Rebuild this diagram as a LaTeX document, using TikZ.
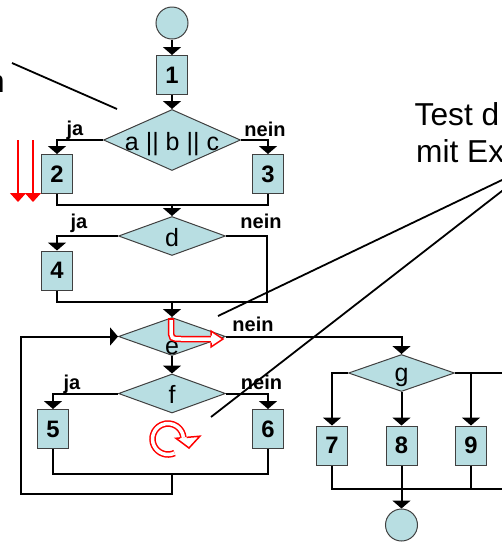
\documentclass[tikz,border=0pt]{standalone}
\usepackage{fontspec}
\setmainfont{Liberation Sans}
\usetikzlibrary{arrows.meta,shapes.geometric}
\definecolor{flowfill}{RGB}{184,222,226}
\newcommand{\dlabel}[2][10pt]{\smash{\makebox[0pt]{\raisebox{-#1}{#2}}}}

\begin{document}
\begin{tikzpicture}[x=1pt, y=-1pt,
  box/.style={draw=black!75, line width=1pt, fill=flowfill, minimum width=31pt,
    minimum height=39pt, inner sep=0pt, font=\fontsize{23.8}{24}\selectfont\bfseries},
  dia/.style={diamond, draw=black!75, line width=1pt, fill=flowfill, inner sep=0pt,
    minimum width=107pt, minimum height=39pt, font=\fontsize{25}{26}\selectfont},
  term/.style={circle, draw=black!75, line width=1pt, fill=flowfill, minimum size=32pt, inner sep=0pt},
  flow/.style={line width=2pt},
  arr/.style={flow, -{Triangle[width=18pt,length=8pt]}},
  lbl/.style={font=\fontsize{20}{22}\selectfont\bfseries, anchor=base, inner sep=0pt},
  note/.style={font=\fontsize{31.7}{34}\selectfont, anchor=base west, inner sep=0pt},
  callout/.style={line width=1.8pt},
  hint/.style={red, line width=1.5pt, double=white, double distance=3.5pt},
  redarr/.style={red, line width=1.5pt, -{Triangle[width=16pt,length=9pt]}},
]
  \useasboundingbox (0,0) rectangle (502,542);
  \clip (0,0) rectangle (502,542);

  % Blocks
  \node[term] (start) at (172,23) {};
  \node[box] (b1) at (172,75) {1};
  \node[dia, minimum width=137pt, minimum height=61pt] (abc) at (172,140) {\dlabel{a || b || c}};
  \node[box] (b2) at (57,174) {2};
  \node[box] (b3) at (268,174) {3};
  \node[dia] (d) at (172,236) {\dlabel{d}};
  \node[box] (b4) at (57,270.5) {4};
  \node[dia, minimum height=38pt] (e) at (172,336.5) {\dlabel[18pt]{e}};
  \node[dia] (f) at (172,393.5) {\dlabel{f}};
  \node[box] (b5) at (53,429) {5};
  \node[box] (b6) at (268,429) {6};
  \node[dia, minimum width=106pt, minimum height=37pt] (g) at (401.5,373) {\dlabel[8pt]{g}};
  \node[box] (b7) at (332,445.5) {7};
  \node[box] (b8) at (401.5,445.5) {8};
  \node[box] (b9) at (471,445.5) {9};
  \node[term] (stop) at (401.5,525) {};

  % Junctions
  \coordinate (j1) at (172,205);
  \coordinate (j2) at (172,302);
  \coordinate (j2r) at (267,302);
  \coordinate (j3) at (172,474);
  \coordinate (loop) at (21,494);
  \coordinate (gout) at (512,373);
  \coordinate (jout) at (512,489);

  % Flow
  \draw[arr] (start) -- (b1);
  \draw[arr] (b1) -- (abc);
  \draw[arr] (abc.west) -| (b2.north);
  \draw[arr] (abc.east) -| (b3.north);
  \draw[flow] (b2.south) |- (j1) -| (b3.south);
  \draw[arr] (j1) -- (d);
  \draw[arr] (d.west) -| (b4.north);
  \draw[flow] (b4.south) |- (j2r) |- (d.east);
  \draw[arr] (j2) -- (e);
  \draw[arr] (e.east) -| (g.north);
  \draw[arr] (e) -- (f);
  \draw[arr] (f.west) -| (b5.north);
  \draw[arr] (f.east) -| (b6.north);
  \draw[flow] (b5.south) |- (j3) -| (b6.south);
  \draw[arr] (j3) |- (loop) |- (e.west);
  \draw[arr] (g.west) -| (b7.north);
  \draw[arr] (g) -- (b8);
  \draw[flow] (g.east) -- (gout);
  \draw[arr] (g.east -| b9.north) -- (b9);
  \draw[flow] (b7.south) |- (jout);
  \draw[flow] (b9.south) -- (b9.south |- jout);
  \draw[arr] (b8) -- (stop);

  % Branch labels
  \node[lbl] (ja1) at (75,135) {ja};
  \node[lbl] (nein1) at (265,136.5) {nein};
  \node[lbl] (ja2) at (79,228) {ja};
  \node[lbl] (nein2) at (261,228) {nein};
  \node[lbl] (nein3) at (253,331) {nein};
  \node[lbl] (ja3) at (72,389) {ja};
  \node[lbl] (nein4) at (261.5,389) {nein};

  % Notes (cut at the border)
  \node[note] (test) at (414.5,125) {Test d};
  \node[note] (mit) at (416,162) {mit Ex};
  \node[note] (cut) at (-13,92) {n};

  % Callout lines
  \coordinate (c1) at (12,63);
  \coordinate (c1e) at (117,109);
  \coordinate (c2) at (520,171.4);
  \coordinate (c2e) at (218,316);
  \coordinate (c3) at (520,177);
  \coordinate (c3e) at (211,417);
  \draw[callout] (c1) -- (c1e);
  \draw[callout] (c2) -- (c2e);
  \draw[callout] (c3) -- (c3e);

  % Red marks
  \draw[redarr] (18,140) -- (18,202);
  \draw[redarr] (33,140) -- (33,202);
  \draw[hint] (171,319) -- (171,328) .. controls (171,339) .. (182,339) -- (211,339);
  \draw[red, line width=1.5pt] (167.75,319) -- (174.25,319);
  \filldraw[red, line width=1.5pt, fill=white] (211,335.5) -- (211,331) -- (223,339) -- (211,347) -- (211,342.5);
  \begin{scope}[shift={(168,439)}]
    \draw[hint] (65:15.5) arc[start angle=65, end angle=355, radius=15.5];
    \filldraw[red, line width=1.5pt, fill=white] (355:12.25) -- (355:8) -- (21,9) -- (355:32) -- (355:18.75);
  \end{scope}

\end{tikzpicture}
\end{document}
